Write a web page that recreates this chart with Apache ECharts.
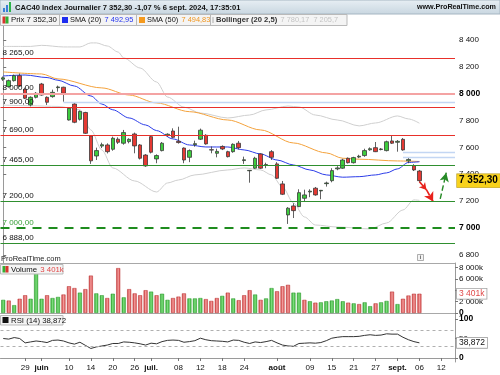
<!DOCTYPE html>
<html><head><meta charset="utf-8">
<script src="https://cdn.jsdelivr.net/npm/echarts@6/dist/echarts.min.js"></script>
<style>html,body{margin:0;padding:0;background:#fff}#c{width:500px;height:375px}</style>
</head><body><div id="c"></div>
<script>
// ---------- DATA ----------
const dates = [
'23/05','24/05','27/05','28/05','29/05','30/05','31/05',
'03/06','04/06','05/06','06/06','07/06','10/06','11/06','12/06','13/06','14/06','17/06','18/06','19/06','20/06','21/06','24/06','25/06','26/06','27/06','28/06',
'01/07','02/07','03/07','04/07','05/07','08/07','09/07','10/07','11/07','12/07','15/07','16/07','17/07','18/07','19/07','22/07','23/07','24/07','25/07','26/07','29/07','30/07','31/07',
'01/08','02/08','05/08','06/08','07/08','08/08','09/08','12/08','13/08','14/08','15/08','16/08','19/08','20/08','21/08','22/08','23/08','26/08','27/08','28/08','29/08','30/08',
'02/09','03/09','04/09','05/09','06/09','09/09','10/09','11/09','12/09','13/09','16/09'];

// [open, close, low, high]
const ohlc = [
[8108,8118,8095,8128],[8052,8097,8045,8105],[8097,8134,8090,8142],[8134,8057,8050,8150],
[8033,7966,7960,8045],[7916,7973,7905,7980],[7973,8003,7965,8012],[8072,7990,7985,8080],
[7973,7936,7916,7980],[7978,8010,7970,8030],[8045,8050,8015,8060],[8048,8003,7940,8052],
[7804,7891,7800,7895],[7923,7787,7780,7930],[7809,7868,7800,7875],[7860,7705,7700,7865],
[7685,7500,7477,7690],[7536,7576,7506,7598],[7610,7620,7595,7635],[7618,7568,7555,7630],
[7586,7668,7575,7680],[7661,7638,7625,7675],[7631,7710,7620,7730],[7643,7660,7630,7668],
[7700,7611,7556,7710],[7618,7519,7510,7625],[7543,7462,7455,7550],[7680,7564,7555,7690],
[7514,7539,7482,7548],[7576,7631,7570,7640],[7690,7698,7680,7705],[7722,7675,7668,7742],
[7645,7636,7628,7754],[7595,7506,7482,7600],[7526,7576,7490,7585],[7620,7628,7605,7650],
[7661,7728,7655,7740],[7690,7626,7620,7698],[7583,7580,7556,7607],[7556,7570,7526,7590],
[7607,7588,7580,7615],[7568,7531,7525,7575],[7568,7623,7560,7630],[7631,7598,7585,7648],
[7502,7508,7477,7531],[7426,7429,7337,7432],[7445,7519,7440,7530],[7551,7445,7440,7556],
[7466,7472,7445,7486],[7568,7526,7506,7580],[7477,7370,7365,7490],[7328,7251,7245,7350],
[7097,7147,7030,7155],[7164,7129,7074,7184],[7159,7263,7155,7288],[7221,7246,7200,7285],
[7268,7274,7229,7288],[7296,7246,7240,7305],[7276,7280,7214,7283],[7330,7335,7308,7345],
[7352,7427,7340,7445],[7440,7447,7430,7460],[7445,7506,7440,7515],[7519,7486,7480,7525],
[7486,7524,7480,7530],[7528,7534,7520,7545],[7539,7576,7530,7590],[7582,7590,7575,7600],
[7598,7568,7565,7640],[7584,7588,7578,7595],[7576,7642,7570,7650],[7648,7631,7625,7685],
[7638,7645,7568,7655],[7660,7581,7575,7670],[7500,7510,7482,7524],[7464,7432,7424,7475],
[7424,7352.3,7340,7432]];

// volume in thousands
const volume = [2320,2190,1380,2510,3130,2510,7230,2510,3130,2640,
2830,3260,4720,4400,3590,4210,6600,3460,3130,2640,
3400,7920,2760,4210,3460,3130,4020,3770,3130,3400,
2320,2640,2890,3460,2570,2570,2640,2450,2130,2640,
3020,3590,2570,2260,3130,4020,3260,2320,2570,4400,
3830,4720,4970,3590,3590,2320,2070,1820,1880,2070,
2200,2450,2070,1820,1700,1570,1880,1200,1700,1880,
2130,3770,1570,2510,3080,3400,3401];
const volUp = [1,0,1,0,0,1,1,1,0,1, 1,0,0,0,1,0,0,1,1,0, 1,0,1,0,0,0,0,1,0,1,
1,0,0,0,1,1,1,0,0,0, 1,0,1,0,0,0,1,0,1,1, 0,0,0,1,1,0,1,0,1,1,
1,1,1,0,1,0,1,1,0,1, 1,0,1,0,0,0,0];

const rsi = [50,48.4,52.4,50,38.8,41.2,43.6,42,39.6,45.2,46,43.6,38.8,35.6,40.4,32.4,24.4,28.4,30.8,33.2,
37.2,37.2,41.2,40.4,38.8,36.4,33.2,38,36.4,42,45.2,46,45.2,40.4,42,44.4,50.8,46.8,44.4,43.6,
42.8,41.2,46,45.2,40.4,37.2,41.2,39.6,42,45.2,38.8,33.2,30.8,30,37.2,38,38.8,38,39.6,44.4,
50.8,53.2,54.8,54.8,54.8,55.6,58,59.6,58,58.8,62,61.2,61.2,53.2,46.8,42,38.872];

const sma20 = [[0,8132],[4,8139],[8,8120],[10,8100],[13,8057],[16,7983],[18,7923],[20,7880],[23,7819],[26,7767],[28,7725],[31,7663],[34,7618],[37,7603],[41,7603],[44,7581],[47,7551],[50,7506],[53,7469],[56,7432],[59,7395],[62,7378],[65,7382],[68,7395],[70,7410],[72,7440],[74,7488],[76,7492.95]];
const sma50 = [[0,8162],[7,8147],[10,8110],[18,8043],[23,7990],[28,7931],[34,7866],[41,7804],[47,7730],[53,7633],[59,7559],[62,7519],[65,7512],[72,7499],[76,7494.83]];
const bollUp = [[0,8352],[5,8352],[7,8360],[11,8348],[14,8348],[16,8378],[17,8378],[19,8355],[21,8310],[22,8266],[25,8191],[28,8087],[30,7975],[33,7900],[36,7856],[41,7819],[45,7841],[48,7879],[52,7908],[54,7901],[57,7841],[61,7804],[65,7760],[68,7782],[72,7834],[74,7812],[76,7780.17]];
const bollLow = [[0,7915],[5,7910],[10,7905],[14,7880],[16,7730],[18,7581],[20,7447],[24,7350],[28,7268],[30,7335],[32,7357],[35,7395],[41,7432],[44,7447],[47,7432],[49,7395],[51,7305],[53,7186],[55,7082],[57,7022],[61,7007],[67,6993],[70,7037],[73,7134],[75,7209],[76,7205.7]];

const resistances = [8265, 7900, 7690];
const roundLevels = [8000];
const supports = [7465, 7200, 6888];
const keySupport = [7000];
const blueLevels = [[11,7935],[73,7564],[73,7527]]; // [start index, price]
const redArrow = [[76,7345],[77.3,7283],[78.5,7197]];
const greenArrow = [[79.8,7216],[80.9,7412]];

const priceTicks = [6800,7000,7200,7400,7600,7800,8000,8200,8400];
const volTicks = [0,2000,4000,6000,8000];
const rsiTicks = [0,50,100];
const rsiBands = [70,30];
const xTickDates = ['29/05','03/06','10/06','14/06','20/06','26/06','01/07','08/07','12/07','18/07','24/07','01/08','09/08','15/08','21/08','27/08','02/09','06/09','12/09'];
const xTickText = ['29','juin','10','14','20','26','juil.','08','12','18','24','août','09','15','21','27','sept.','06','12'];
const monthNames = ['juin','juil.','août','sept.'];

const lastClose = ohlc[ohlc.length-1][1];
const lastVol = volume[volume.length-1];
const lastRsi = rsi[rsi.length-1];
const lastSma20 = sma20[sma20.length-1][1];
const lastSma50 = sma50[sma50.length-1][1];
const lastUp = bollUp[bollUp.length-1][1];
const lastLow = bollLow[bollLow.length-1][1];

// ---------- HELPERS ----------
function fr(v, d){
  const s = Math.abs(v).toFixed(d).split('.');
  const ip = s[0].replace(/\B(?=(\d{3})+(?!\d))/g, ' ');
  return (v<0?'-':'') + ip + (d ? ',' + s[1] : '');
}
const FONT = '"Liberation Sans", Arial, sans-serif';
const tickMap = {};
xTickDates.forEach((d,k)=>{ tickMap[dates.indexOf(d)] = xTickText[k]; });

const chart = echarts.init(document.getElementById('c'), null, {renderer:'canvas'});

const G = {left:0.5, width:454.5};
const grid = [
  {left:G.left, width:G.width, top:17, height:246},
  {left:G.left, width:G.width, top:263, height:52},
  {left:G.left, width:G.width, top:315, height:47}
];
const HIDDEN = {color:'rgba(0,0,0,0)', width:0};

function levelLine(v, color, width, type, labelColor){
  return {yAxis:v, lineStyle:{color:color, width:width, type:type},
    label:{show:true, position:'insideStartTop', formatter: fr(v,2), color: labelColor||'#111',
      fontSize:8, fontFamily:FONT, distance:[2,1.5]}};
}
const levelData = [];
resistances.forEach(v=>levelData.push(levelLine(v,'#e8302a',1,'solid')));
roundLevels.forEach(v=>levelData.push(levelLine(v,'#f4a3a3',2,'solid')));
supports.forEach(v=>levelData.push(levelLine(v,'#2f8f2f',1,'solid')));
keySupport.forEach(v=>levelData.push(levelLine(v,'#1e8c1e',2.2,[9,7],'#3aa03a')));

const blueData = blueLevels.map(b=>[{coord:[b[0],b[1]]},{coord:[82.5,b[1]]}]);
const arrowData = [];
for(let k=0;k<redArrow.length-1;k++){
  arrowData.push([{coord:redArrow[k], symbol:'none'},
    {coord:redArrow[k+1], symbol:'arrow', symbolSize: k===0?[6,7]:[8,9],
     lineStyle:{color:'#e8221c', width:1.6}}]);
}
arrowData.push([{coord:greenArrow[0], symbol:'none'},
  {coord:greenArrow[1], symbol:'arrow', symbolSize:[7,9], lineStyle:{color:'#268a26', width:1.4}}]);

function volColor(up){
  return up ? new echarts.graphic.LinearGradient(0,0,1,0,[{offset:0,color:'#2aa52a'},{offset:0.5,color:'#7ddc7d'},{offset:1,color:'#33b333'}])
            : new echarts.graphic.LinearGradient(0,0,1,0,[{offset:0,color:'#c93434'},{offset:0.5,color:'#f29a9a'},{offset:1,color:'#d64848'}]);
}

const axisLabelBase = {fontSize:8, fontFamily:FONT, color:'#111'};
const boxLabel = {fontSize:8.5, fontFamily:FONT, backgroundColor:'#fff', borderColor:'#a0a0a0', borderWidth:0.8, padding:[1,2,0,2]};

const option = {
  animation:false,
  textStyle:{fontFamily:FONT},
  grid: grid,
  xAxis: [
    {type:'category', gridIndex:0, data:dates, boundaryGap:true, axisLabel:{show:false}, axisTick:{show:false},
     axisLine:{show:true, lineStyle:{color:'#a8a8a8', width:1}}, splitLine:{show:false}},
    {type:'category', gridIndex:1, data:dates, boundaryGap:true, axisLabel:{show:false}, axisTick:{show:false},
     axisLine:{show:true, lineStyle:{color:'#a8a8a8', width:1}}, splitLine:{show:false}},
    {type:'category', gridIndex:2, data:dates, boundaryGap:true,
     axisLine:{show:true, lineStyle:{color:'#9a9a9a', width:1}},
     axisTick:{show:true, alignWithLabel:true, length:3, lineStyle:{color:'#777'}, interval:(i)=>tickMap[i]!==undefined},
     axisLabel:Object.assign({}, axisLabelBase, {margin:2, interval:(i)=>tickMap[i]!==undefined,
        formatter:(val, i)=>{ const t = tickMap[i]; if(t===undefined) return ''; return monthNames.indexOf(t)>=0 ? '{b|'+t+'}' : t; },
        rich:{b:{fontWeight:'bold', fontSize:8, fontFamily:FONT, color:'#111'}}}),
     splitLine:{show:false}},
    {type:'value', gridIndex:0, min:-0.5, max:82.5, show:false}
  ],
  yAxis: [
    {type:'value', gridIndex:0, position:'right', min:6739, max:8571, scale:true,
     axisLine:{show:true, lineStyle:{color:'#9a9a9a'}},
     axisTick:{show:true, length:3, lineStyle:{color:'#777'}, customValues:priceTicks},
     axisLabel:Object.assign({}, axisLabelBase, {margin:4, customValues:priceTicks,
        formatter:(v)=> v%1000===0 ? '{b|'+fr(v,0)+'}' : fr(v,0),
        rich:{b:{fontWeight:'bold', fontSize:8.5, fontFamily:FONT, color:'#000'}}}),
     splitLine:{show:false}},
    {type:'value', gridIndex:1, position:'right', min:-353, max:8823,
     axisLine:{show:true, lineStyle:{color:'#9a9a9a'}},
     axisTick:{show:true, length:3, lineStyle:{color:'#777'}, customValues:volTicks},
     axisLabel:Object.assign({}, axisLabelBase, {margin:4, customValues:volTicks,
        formatter:(v)=> v===0 ? '{b|0}' : fr(v,0)+'k',
        rich:{b:{fontWeight:'bold', fontSize:8.5, fontFamily:FONT, color:'#000'}}}),
     splitLine:{show:false}},
    {type:'value', gridIndex:2, position:'right', min:-10.3, max:110.3,
     axisLine:{show:true, lineStyle:{color:'#9a9a9a'}},
     axisTick:{show:true, length:3, lineStyle:{color:'#777'}, customValues:rsiTicks},
     axisLabel:Object.assign({}, axisLabelBase, {margin:4, customValues:rsiTicks,
        formatter:(v)=> v===50 ? '50' : '{b|'+v+'}',
        rich:{b:{fontWeight:'bold', fontSize:8.5, fontFamily:FONT, color:'#000'}}}),
     splitLine:{show:false}}
  ],
  series: [
    {type:'line', name:'bollUp', xAxisIndex:3, yAxisIndex:0, data:bollUp, showSymbol:false, smooth:0.3, smoothMonotone:'x',
     lineStyle:{color:'#cfcfcf', width:1}, z:2, silent:true},
    {type:'line', name:'bollLow', xAxisIndex:3, yAxisIndex:0, data:bollLow, showSymbol:false, smooth:0.3, smoothMonotone:'x',
     lineStyle:{color:'#cfcfcf', width:1}, z:2, silent:true},
    {type:'line', name:'sma50', xAxisIndex:3, yAxisIndex:0, data:sma50, showSymbol:false, smooth:0.3, smoothMonotone:'x',
     lineStyle:{color:'#f4a23c', width:1}, z:3, silent:true,
     markLine:{symbol:'none', silent:true, label:{show:false}, lineStyle:{color:'#c3d6f3', width:1.4, type:'solid'}, data:blueData}},
    {type:'line', name:'sma20', xAxisIndex:3, yAxisIndex:0, data:sma20, showSymbol:false, smooth:0.3, smoothMonotone:'x',
     lineStyle:{color:'#2b3ce8', width:1}, z:3, silent:true,
     markLine:{silent:true, label:{show:false}, data:arrowData}},
    {type:'candlestick', xAxisIndex:0, yAxisIndex:0, data:ohlc, barWidth:4, clip:false, z:4,
     itemStyle:{color:'#3dcc3d', color0:'#e53933', borderColor:'#3a3a3a', borderColor0:'#3a3a3a', borderWidth:0.8},
     markLine:{symbol:'none', silent:true, data:levelData}},
    {type:'bar', xAxisIndex:1, yAxisIndex:1, barWidth:4, clip:false,
     data: volume.map((v,i)=>({value:v, itemStyle:{color:volColor(volUp[i]), borderColor: volUp[i]?'#2a962a':'#b83030', borderWidth:0.5}}))},
    {type:'line', xAxisIndex:2, yAxisIndex:2, data:rsi, showSymbol:false, clip:false,
     lineStyle:{color:'#333', width:1},
     markLine:{symbol:'none', silent:true, data:
       rsiBands.map(v=>({yAxis:v, lineStyle:{color:'#b0b0b0', width:1, type:[3,3]}, label:{show:false}}))}},
    // right-hand value tags (invisible lines carrying end labels)
    {type:'line', xAxisIndex:0, yAxisIndex:0, data:[], z:20,
     markLine:{symbol:'none', silent:true, data:[{yAxis:lastClose, lineStyle:HIDDEN,
       label:{show:true, position:'end', formatter: fr(lastClose,2), color:'#000', fontWeight:'bold',
         fontSize:10, fontFamily:FONT, backgroundColor:'#f8d21c', borderColor:'#b8980a', borderWidth:0.6,
         padding:[2,2,1,2], distance:2}}]}},
    {type:'line', xAxisIndex:1, yAxisIndex:1, data:[], z:20,
     markLine:{symbol:'none', silent:true, data:[{yAxis:lastVol, lineStyle:HIDDEN,
       label:Object.assign({show:true, position:'end', formatter: fr(lastVol,0)+'k', color:'#e04848', distance:2}, boxLabel)}]}},
    {type:'line', xAxisIndex:2, yAxisIndex:2, data:[], z:20,
     markLine:{symbol:'none', silent:true, data:[{yAxis:lastRsi, lineStyle:HIDDEN,
       label:Object.assign({show:true, position:'end', formatter: fr(lastRsi,3), color:'#111', distance:2}, boxLabel)}]}}
  ],
  graphic: [
    {type:'rect', z:100, shape:{x:0,y:0,width:500,height:14},
     style:{fill:new echarts.graphic.LinearGradient(0,0,0,1,[{offset:0,color:'#e8eff4'},{offset:1,color:'#c8d6e0'}]), stroke:'#a6b6c2', lineWidth:1}},
    {type:'rect', z:101, shape:{x:3,y:8,width:2,height:4}, style:{fill:'#3a7fd6'}},
    {type:'rect', z:101, shape:{x:6,y:5,width:2,height:7}, style:{fill:'#3a7fd6'}},
    {type:'rect', z:101, shape:{x:9,y:2,width:2,height:10}, style:{fill:'#2db34a'}},
    {type:'text', z:101, x:15, y:7.5, style:{text:'CAC40 Index Journalier ' + fr(lastClose,2) + ' -1,07 % 6 sept. 2024, 17:35:01',
      font:'bold 7.6px '+FONT, fill:'#111', verticalAlign:'middle', textVerticalAlign:'middle'}},
    {type:'text', z:101, x:496, y:7.5, style:{text:'www.ProRealTime.com', font:'bold 7.2px '+FONT, fill:'#111',
      align:'right', textAlign:'right', verticalAlign:'middle', textVerticalAlign:'middle'}},
    // legend bar
    {type:'rect', z:100, shape:{x:0.5,y:14.5,width:346.5,height:11}, style:{fill:'#f4f4f4', stroke:'#b9b9b9', lineWidth:1}},
    {type:'rect', z:101, shape:{x:2.5,y:16.5,width:3,height:7}, style:{fill:'#d8352f'}},
    {type:'rect', z:101, shape:{x:5.5,y:16.5,width:3,height:7}, style:{fill:'#33b033'}},
    {type:'text', z:101, x:11, y:20.3, style:{text:'Prix ' + fr(lastClose,2), font:'7.8px '+FONT, fill:'#111', verticalAlign:'middle', textVerticalAlign:'middle'}},
    {type:'line', z:101, shape:{x1:59.5,y1:14.5,x2:59.5,y2:25.5}, style:{stroke:'#b9b9b9'}},
    {type:'rect', z:101, shape:{x:62,y:17,width:6,height:6}, style:{fill:'#1d2df0'}},
    {type:'text', z:101, x:70, y:20.3, style:{text:'{k|SMA (20)} {v|'+fr(lastSma20,2)+'}',
      rich:{k:{fontSize:7.4, fontFamily:FONT, fill:'#111', color:'#111'}, v:{fontSize:7.4, fontFamily:FONT, fill:'#2233ee', color:'#2233ee'}},
      verticalAlign:'middle', textVerticalAlign:'middle'}},
    {type:'line', z:101, shape:{x1:136.5,y1:14.5,x2:136.5,y2:25.5}, style:{stroke:'#b9b9b9'}},
    {type:'rect', z:101, shape:{x:139,y:17,width:6,height:6}, style:{fill:'#f59a1e'}},
    {type:'text', z:101, x:147, y:20.3, style:{text:'{k|SMA (50)} {v|'+fr(lastSma50,2)+'}',
      rich:{k:{fontSize:7.4, fontFamily:FONT, fill:'#111', color:'#111'}, v:{fontSize:7.4, fontFamily:FONT, fill:'#f0951e', color:'#f0951e'}},
      verticalAlign:'middle', textVerticalAlign:'middle'}},
    {type:'line', z:101, shape:{x1:210.5,y1:14.5,x2:210.5,y2:25.5}, style:{stroke:'#b9b9b9'}},
    {type:'rect', z:101, shape:{x:212,y:17,width:2,height:6}, style:{fill:'#d0d0d0'}},
    {type:'text', z:101, x:216, y:20.3, style:{text:'{k|Bollinger (20 2,5)} {v|'+fr(lastUp,2)+'  '+fr(lastLow,1)+'}',
      rich:{k:{fontSize:7.6, fontFamily:FONT, fontWeight:'bold', fill:'#333', color:'#333'}, v:{fontSize:7.4, fontFamily:FONT, fill:'#c4c4c4', color:'#c4c4c4'}},
      verticalAlign:'middle', textVerticalAlign:'middle'}},
    // ProRealTime watermark + info icon
    {type:'text', z:101, x:1, y:258.5, style:{text:'ProRealTime.com', font:'7.5px '+FONT, fill:'#222', verticalAlign:'middle', textVerticalAlign:'middle'}},
    {type:'rect', z:101, shape:{x:417.5,y:254.5,width:6,height:6}, style:{fill:'#f3f3f3', stroke:'#9a9a9a', lineWidth:0.8}},
    {type:'text', z:102, x:420.5, y:257.7, style:{text:'i', font:'bold 6px '+FONT, fill:'#666', align:'center', textAlign:'center', verticalAlign:'middle', textVerticalAlign:'middle'}},
    // volume legend
    {type:'rect', z:100, shape:{x:0.5,y:264.5,width:62.5,height:9.5}, style:{fill:'#f4f4f4', stroke:'#b9b9b9', lineWidth:1}},
    {type:'rect', z:101, shape:{x:2.5,y:266,width:3,height:6.5}, style:{fill:'#33b033'}},
    {type:'rect', z:101, shape:{x:5.5,y:266,width:3,height:6.5}, style:{fill:'#d8352f'}},
    {type:'text', z:101, x:11, y:269.5, style:{text:'{k|Volume} {v|'+fr(lastVol,0)+'k}',
      rich:{k:{fontSize:7.8, fontFamily:FONT, fill:'#111', color:'#111'}, v:{fontSize:7.8, fontFamily:FONT, fill:'#e04848', color:'#e04848'}},
      verticalAlign:'middle', textVerticalAlign:'middle'}},
    // RSI legend
    {type:'rect', z:100, shape:{x:0.5,y:315.5,width:62.5,height:9.5}, style:{fill:'#f4f4f4', stroke:'#b9b9b9', lineWidth:1}},
    {type:'rect', z:101, shape:{x:2.5,y:317,width:6,height:6}, style:{fill:'#111'}},
    {type:'text', z:101, x:11, y:320.5, style:{text:'RSI (14) ' + fr(lastRsi,3), font:'7.8px '+FONT, fill:'#111', verticalAlign:'middle', textVerticalAlign:'middle'}}
  ]
};
chart.setOption(option);
</script>
</body></html>
